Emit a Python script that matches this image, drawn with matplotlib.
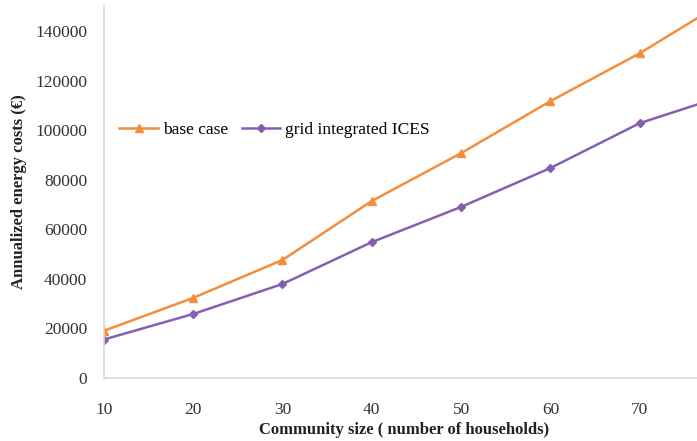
import numpy as np
import matplotlib.pyplot as plt

# Tamano de la comunidad (numero de hogares)
hogares = [10, 20, 30, 40, 50, 60, 70, 80]
# Costes anualizados de energia (EUR)
caso_base = [19000, 32300, 47600, 71400, 90700, 111700, 131000, 153000]
ices_red = [15500, 25800, 37900, 54800, 69000, 84700, 102800, 114500]

etiquetas = ['base case', 'grid integrated ICES']
color_base = '#F28E3C'
color_ices = '#8660B0'

plt.rcParams['font.family'] = ['Liberation Serif', 'DejaVu Serif']

fig = plt.figure(figsize=(6.97, 4.41), dpi=100)
ax = fig.add_axes([0.149, 0.143, 0.897, 0.843])

ax.plot(hogares, caso_base, color=color_base, linewidth=1.8, marker='^',
        markersize=6, label=etiquetas[0])
ax.plot(hogares, ices_red, color=color_ices, linewidth=1.8, marker='D',
        markersize=4, label=etiquetas[1])

ax.set_xlim(10, 80)
ax.set_ylim(0, 150000)
ax.set_yticks(np.arange(0, 140001, 20000))
ax.set_xticks(hogares[:-1])
ax.tick_params(axis='y', length=0, labelsize=12.5, colors='#333333', pad=12)
ax.tick_params(axis='x', length=0, labelsize=12.5, colors='#333333', pad=17)

for lado in ['top', 'right']:
    ax.spines[lado].set_visible(False)
for lado in ['left', 'bottom']:
    ax.spines[lado].set_color('#D9D9D9')
    ax.spines[lado].set_linewidth(1.2)

# etiqueta del eje x colocada a mano para que no se corte
fig.text(0.58, 0.025, 'Community size ( number of households)', fontsize=12,
         fontweight='bold', color='#222222', ha='center', va='center')
ax.set_ylabel('Annualized energy costs (€)', fontsize=12,
              fontweight='bold', color='#222222', labelpad=6)

ax.legend(loc='center left', bbox_to_anchor=(0.0, 0.667), ncol=2, frameon=False,
          fontsize=12.5, handlelength=2.2, handletextpad=0.3, columnspacing=0.8)

fig.savefig('out.png', dpi=100)
